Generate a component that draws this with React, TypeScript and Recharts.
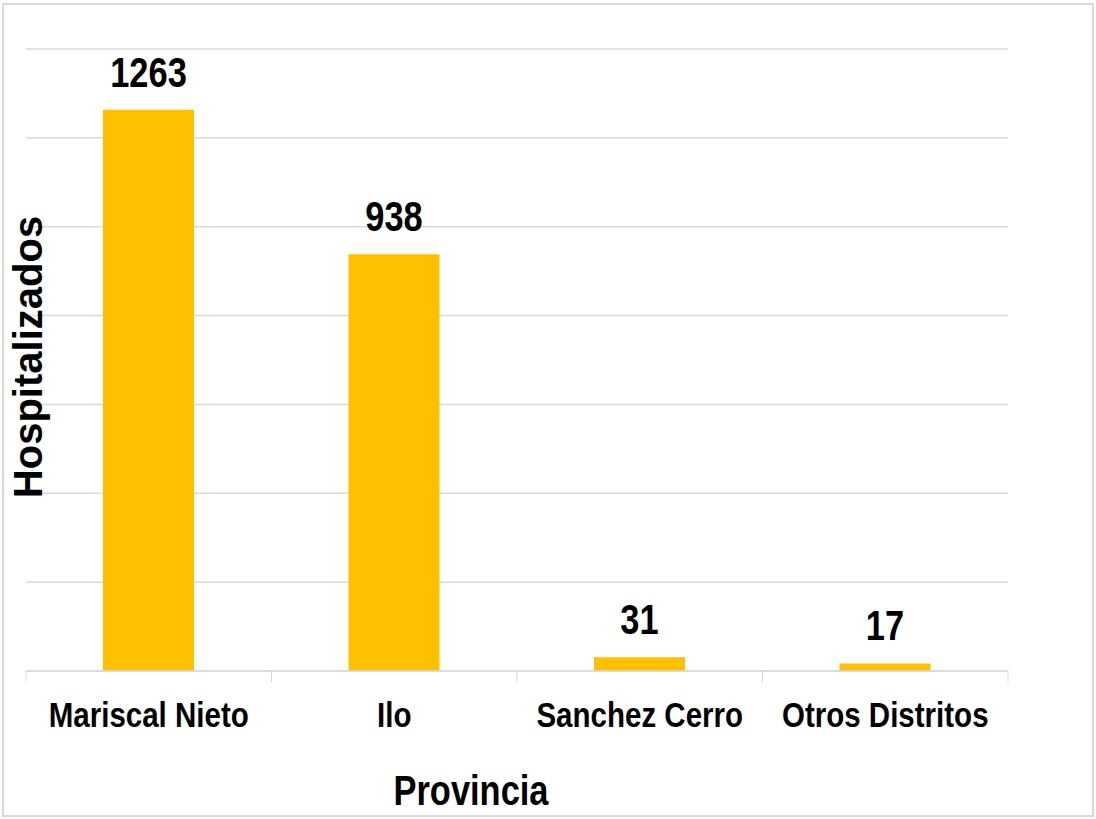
import React from "react";
import { BarChart, Bar, XAxis, YAxis, CartesianGrid, LabelList } from "recharts";

const PROVINCIAS = ["Mariscal Nieto", "Ilo", "Sanchez Cerro", "Otros Distritos"];
const HOSPITALIZADOS = [1263, 938, 31, 17];
const Y_TICKS = [0, 200, 400, 600, 800, 1000, 1200, 1400];

const W = 1096;
const H = 819;
const MARGIN = { top: 49, right: 88, bottom: 0, left: 26 };
const X_AXIS_H = 148;
const BAND = (W - MARGIN.left - MARGIN.right) / PROVINCIAS.length;
const FONT = "'Liberation Sans', Arial, sans-serif";
const GRID = "#d9d9d9";

const data = PROVINCIAS.map((p, i) => ({ provincia: p, valor: HOSPITALIZADOS[i] }));

function Tick(props: any) {
  const { x, y, payload, index } = props;
  const last = index === PROVINCIAS.length - 1;
  return (
    <g>
      <line x1={x - BAND / 2} x2={x - BAND / 2} y1={y} y2={y + 11} stroke={GRID} strokeWidth={1} />
      {last && <line x1={x + BAND / 2} x2={x + BAND / 2} y1={y} y2={y + 11} stroke={GRID} strokeWidth={1} />}
      <text
        transform={`translate(${x} ${y + 56}) scale(0.82 1)`}
        textAnchor="middle"
        fontFamily={FONT}
        fontWeight="bold"
        fontSize={36}
        fill="#000"
      >
        {payload.value}
      </text>
    </g>
  );
}

function ValueLabel(props: any) {
  const { x, y, width, value } = props;
  return (
    <text
      transform={`translate(${x + width / 2} ${y - 23}) scale(0.82 1)`}
      textAnchor="middle"
      fontFamily={FONT}
      fontWeight="bold"
      fontSize={42}
      fill="#000"
    >
      {value}
    </text>
  );
}

export default function App() {
  return (
    <div style={{ position: "absolute", left: 0, top: 0, width: W, height: H, background: "#fff" }}>
      <div
        style={{
          position: "absolute",
          left: 2,
          top: 3,
          width: W - 4,
          height: H - 5,
          border: `2px solid ${GRID}`,
          boxSizing: "border-box",
        }}
      />
      <div style={{ position: "absolute", left: 0, top: 0 }}>
        <BarChart width={W} height={H} data={data} margin={MARGIN}>
          <CartesianGrid vertical={false} stroke={GRID} strokeWidth={1.5} />
          <YAxis hide domain={[0, 1400]} ticks={Y_TICKS} />
          <XAxis
            dataKey="provincia"
            height={X_AXIS_H}
            axisLine={{ stroke: GRID, strokeWidth: 1.5 }}
            tickLine={false}
            tickSize={0}
            tickMargin={0}
            tick={<Tick />}
            interval={0}
          />
          <Bar dataKey="valor" fill="#FFC000" barSize={91} isAnimationActive={false}>
            <LabelList dataKey="valor" content={<ValueLabel />} />
          </Bar>
        </BarChart>
      </div>
      <svg width={W} height={H} style={{ position: "absolute", left: 0, top: 0, pointerEvents: "none" }}>
        <text
          transform="translate(471 805) scale(0.82 1)"
          textAnchor="middle"
          fontFamily={FONT}
          fontWeight="bold"
          fontSize={42}
          fill="#000"
        >
          Provincia
        </text>
        <text
          transform="translate(42 357) rotate(-90)"
          textAnchor="middle"
          fontFamily={FONT}
          fontWeight="bold"
          fontSize={40}
          fill="#000"
        >
          Hospitalizados
        </text>
      </svg>
    </div>
  );
}
